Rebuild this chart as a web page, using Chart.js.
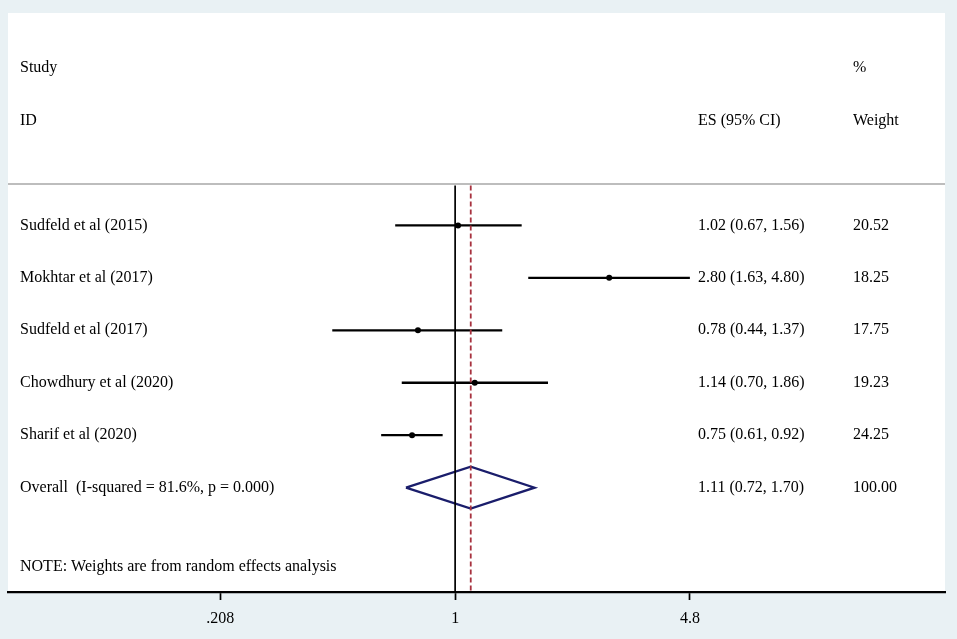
<!DOCTYPE html>
<html>
<head>
<meta charset="utf-8">
<script src="https://cdn.jsdelivr.net/npm/chart.js@4/dist/chart.umd.min.js"></script>
<style>
html,body{margin:0;padding:0;background:#e9f1f4;}
canvas{display:block;}
</style>
</head>
<body>
<canvas id="c" width="957" height="639"></canvas>
<script>
// ---- data ----
const studies = ["Sudfeld et al (2015)", "Mokhtar et al (2017)", "Sudfeld et al (2017)", "Chowdhury et al (2020)", "Sharif et al (2020)"];
const es      = [1.02, 2.80, 0.78, 1.14, 0.75];
const ciLow   = [0.67, 1.63, 0.44, 0.70, 0.61];
const ciHigh  = [1.56, 4.80, 1.37, 1.86, 0.92];
const weights = ["20.52", "18.25", "17.75", "19.23", "24.25"];
const overallLabel = "Overall  (I-squared = 81.6%, p = 0.000)";
const overallES = 1.11, overallLow = 0.72, overallHigh = 1.70;
const overallWeight = "100.00";
const tickValues = [0.208, 1, 4.8];
const tickLabels = [".208", "1", "4.8"];
const noteText = "NOTE: Weights are from random effects analysis";

// ---- layout (row units) ----
const ROW_STUDY = 0, ROW_ID = 1, SEP_ROW = 2.21, FIRST_ROW = 3, NOTE_ROW = 9.5;
const Y_MIN = -1.05, Y_MAX = 9.99;
const X_MIN = 0.0504, X_MAX = 26.4;
const overallRow = FIRST_ROW + studies.length;
const DIAMOND_H = 0.4;
const FONT = "16px 'Liberation Serif', 'Times New Roman', serif";

const datasets = [];
// reference line at 1
datasets.push({type:'line', data:[{x:1,y:SEP_ROW+0.03},{x:1,y:Y_MAX}], borderColor:'#000', borderWidth:1.7, pointRadius:0});
// overall ES dashed line
datasets.push({type:'line', data:[{x:overallES,y:SEP_ROW+0.03},{x:overallES,y:Y_MAX}], borderColor:'#a8323f', borderWidth:1.8, borderDash:[5,3], pointRadius:0});
// CI lines
studies.forEach((s,i)=>{
  datasets.push({type:'line', data:[{x:ciLow[i],y:FIRST_ROW+i},{x:ciHigh[i],y:FIRST_ROW+i}], borderColor:'#000', borderWidth:2.3, pointRadius:0});
});
// point estimates
datasets.push({type:'scatter', data: es.map((v,i)=>({x:v,y:FIRST_ROW+i})), backgroundColor:'#000', borderColor:'#000', pointRadius:3, pointBorderWidth:0});
// diamond
datasets.push({type:'line', data:[
  {x:overallLow,y:overallRow},{x:overallES,y:overallRow-DIAMOND_H},{x:overallHigh,y:overallRow},{x:overallES,y:overallRow+DIAMOND_H},{x:overallLow,y:overallRow}
], borderColor:'#1a1d6b', borderWidth:2.3, pointRadius:0, tension:0, borderJoinStyle:'miter'});

const bgPlugin = {
  id:'bg',
  beforeDraw(chart){
    const {ctx, chartArea:a, width, height} = chart;
    ctx.save();
    ctx.fillStyle = '#e9f1f4';
    ctx.fillRect(0,0,width,height);
    ctx.fillStyle = '#ffffff';
    ctx.fillRect(a.left, a.top, a.right-a.left, a.bottom-a.top);
    ctx.restore();
  },
  beforeDatasetsDraw(chart){
    const {ctx, chartArea:a, scales:{y}} = chart;
    const py = y.getPixelForValue(SEP_ROW);
    ctx.save();
    ctx.strokeStyle = '#bdbdbd';
    ctx.lineWidth = 2;
    ctx.beginPath(); ctx.moveTo(a.left, py); ctx.lineTo(a.right, py); ctx.stroke();
    ctx.restore();
  },
  afterDraw(chart){
    const {ctx, scales:{y}} = chart;
    const COL_ID = 20, COL_ES = 698, COL_W = 853;
    ctx.save();
    ctx.font = FONT;
    ctx.fillStyle = '#000';
    ctx.textBaseline = 'middle';
    ctx.textAlign = 'left';
    const t = (s,x,row)=>ctx.fillText(s,x,y.getPixelForValue(row));
    t("Study", COL_ID, ROW_STUDY);
    t("%", COL_W, ROW_STUDY);
    t("ID", COL_ID, ROW_ID);
    t("ES (95% CI)", COL_ES, ROW_ID);
    t("Weight", COL_W, ROW_ID);
    studies.forEach((s,i)=>{
      t(s, COL_ID, FIRST_ROW+i);
      t(es[i].toFixed(2)+" ("+ciLow[i].toFixed(2)+", "+ciHigh[i].toFixed(2)+")", COL_ES, FIRST_ROW+i);
      t(weights[i], COL_W, FIRST_ROW+i);
    });
    t(overallLabel, COL_ID, overallRow);
    t(overallES.toFixed(2)+" ("+overallLow.toFixed(2)+", "+overallHigh.toFixed(2)+")", COL_ES, overallRow);
    t(overallWeight, COL_W, overallRow);
    t(noteText, COL_ID, NOTE_ROW);
    ctx.restore();
  }
};

new Chart(document.getElementById('c'), {
  type:'scatter',
  data:{datasets},
  plugins:[bgPlugin],
  options:{
    responsive:false,
    animation:false,
    layout:{padding:{top:13,left:8,right:12,bottom:0}},
    plugins:{legend:{display:false}, tooltip:{enabled:false}},
    scales:{
      x:{
        type:'logarithmic', min:X_MIN, max:X_MAX,
        afterBuildTicks(scale){ scale.ticks = tickValues.map(v=>({value:v})); },
        afterFit(scale){ scale.height = 47; },
        ticks:{
          autoSkip:false, maxRotation:0, padding:9, color:'#000',
          font:{family:"'Liberation Serif', 'Times New Roman', serif", size:16},
          callback(v, i){ return tickLabels[i]; }
        },
        grid:{display:true, drawOnChartArea:false, drawTicks:true, tickLength:8, tickColor:'#000', tickWidth:1.7},
        border:{display:true, color:'#000', width:2.2}
      },
      y:{type:'linear', reverse:true, min:Y_MIN, max:Y_MAX, display:false}
    }
  }
});
</script>
</body>
</html>
